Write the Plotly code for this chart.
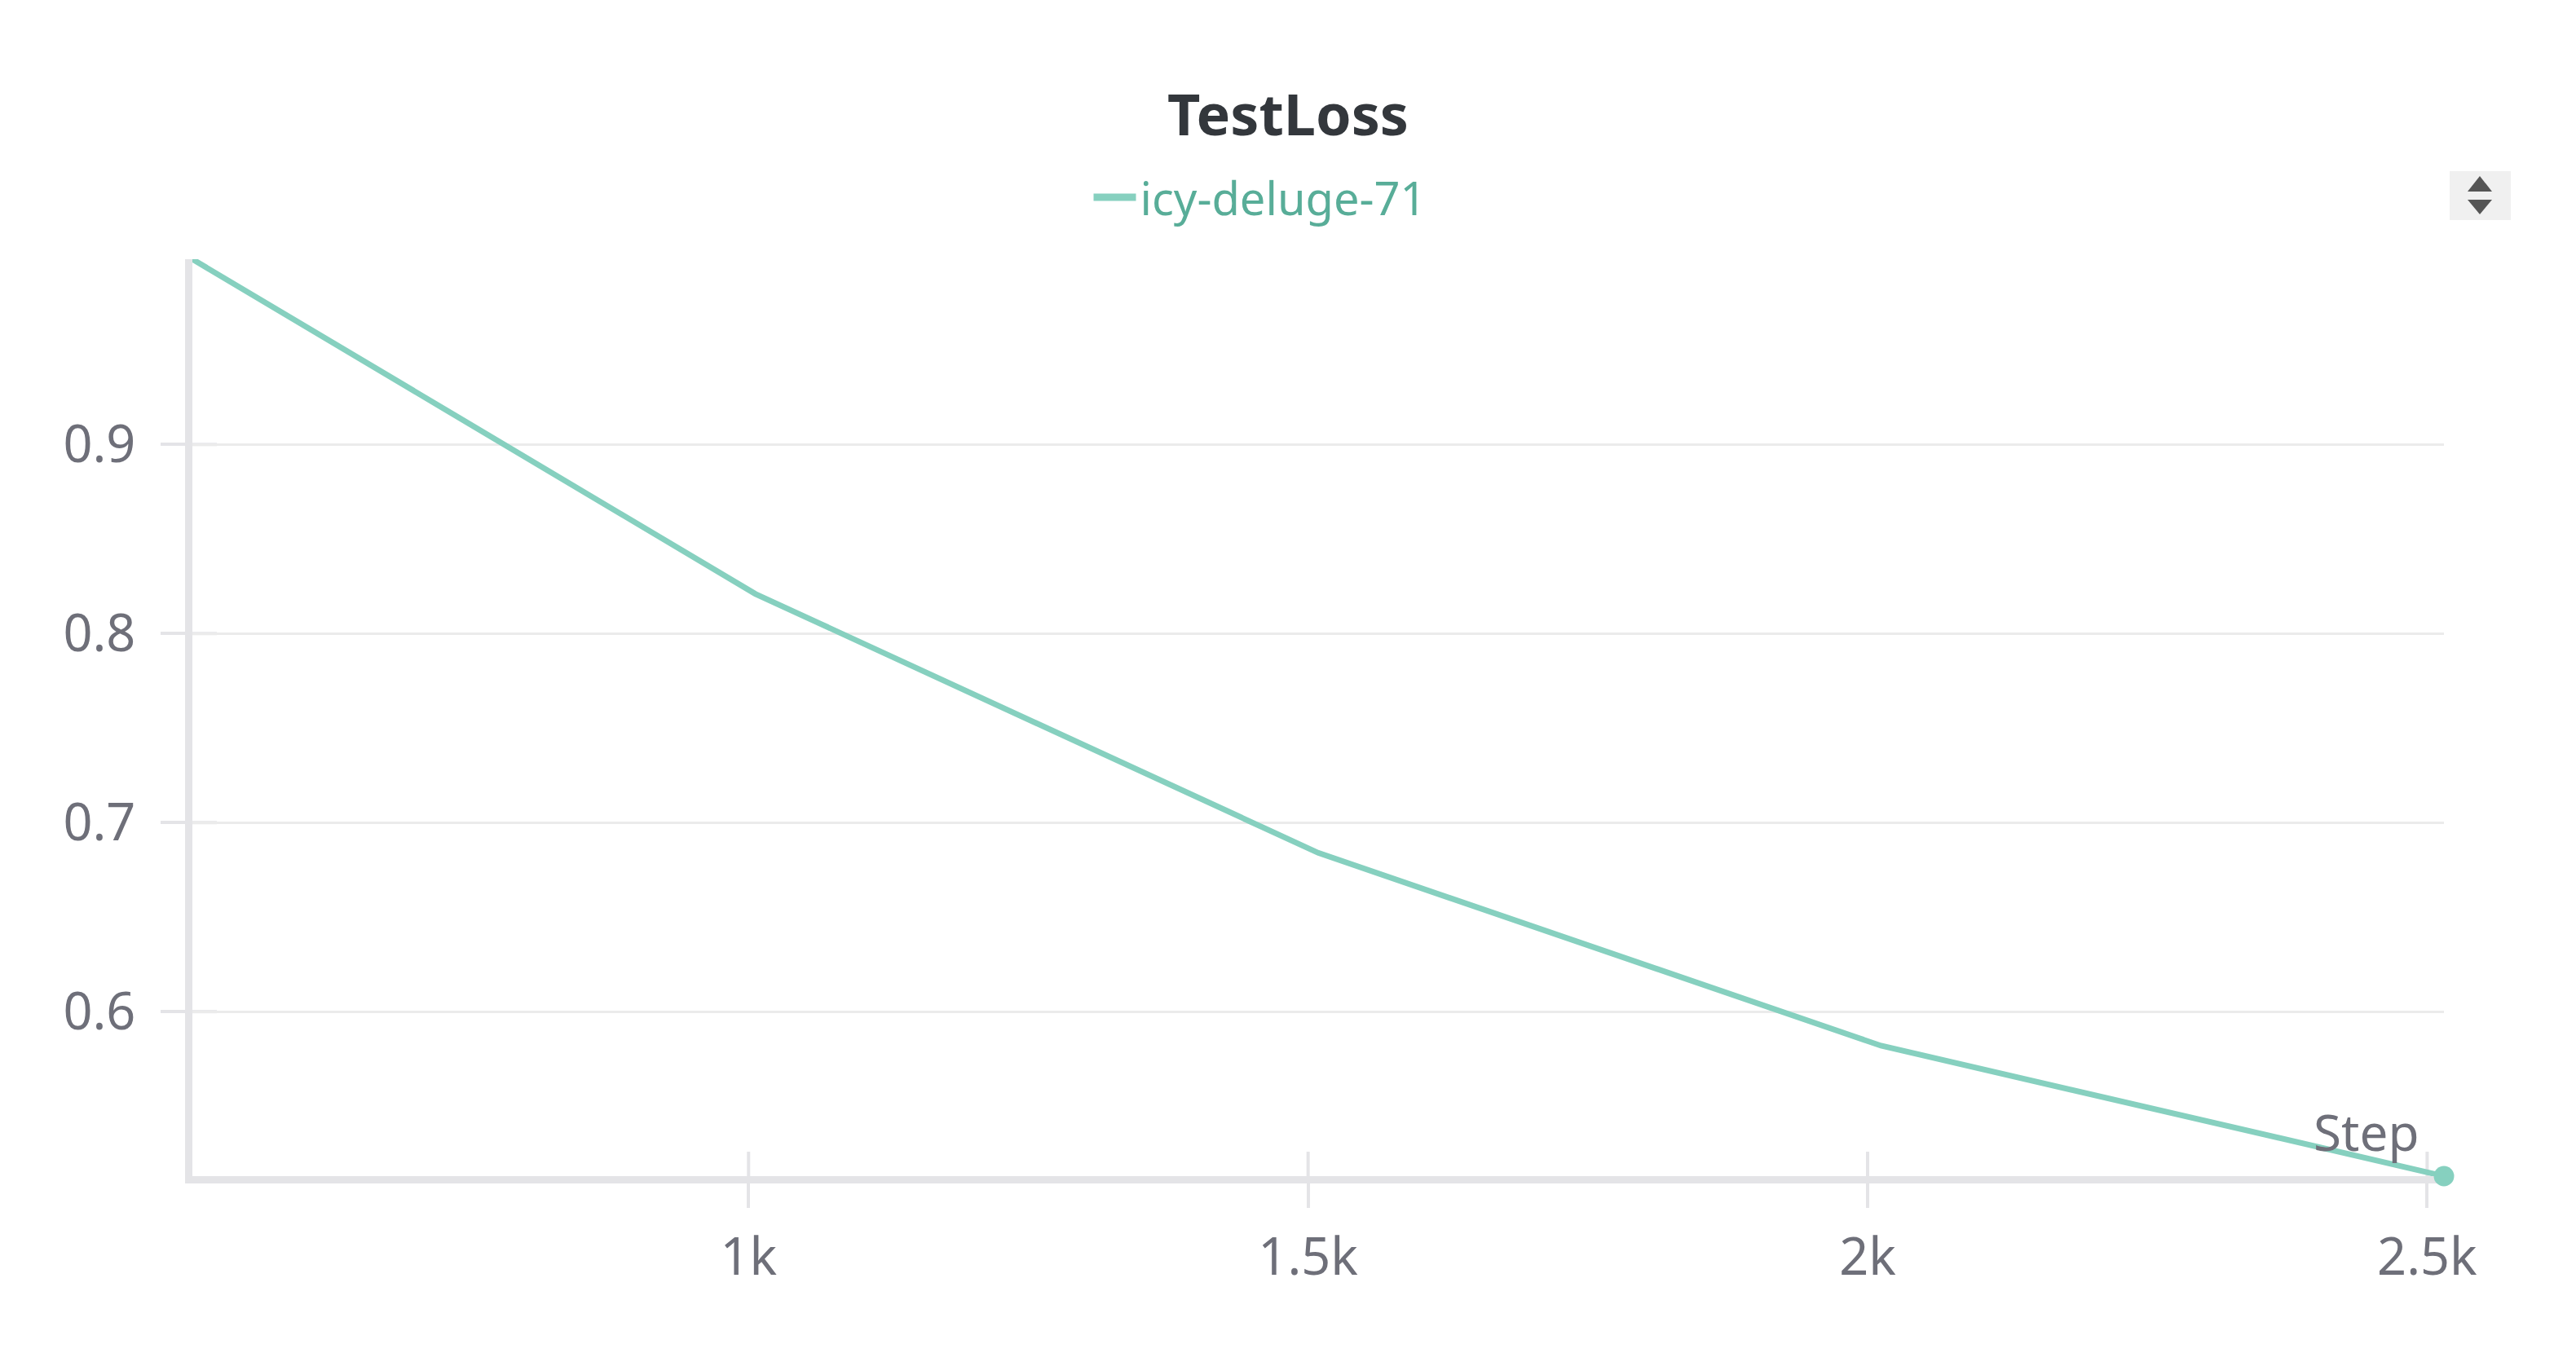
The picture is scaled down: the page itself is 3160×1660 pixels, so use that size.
import plotly.graph_objects as go

# ---- data ----
steps = [503, 1006, 1509, 2012, 2515]
test_loss = [0.998, 0.821, 0.684, 0.582, 0.513]
run_name = "icy-deluge-71"
chart_title = "TestLoss"
x_tickvals = [1000, 1500, 2000, 2500]
x_ticktext = ["1k", "1.5k", "2k", "2.5k"]
y_tickvals = [0.6, 0.7, 0.8, 0.9]
y_ticktext = ["0.6", "0.7", "0.8", "0.9"]

# ---- style ----
LINE = "#86d0bf"
LEGEND_TXT = "#58ad98"
TICK_TXT = "#6e6f79"
AXIS = "#e4e4e7"
GRID = "#ebebeb"
FONT = "Noto Sans"

W, H = 3160, 1660
ML, MR, MT, MB = 236, 162, 318, 217
PW, PH = W - ML - MR, H - MT - MB

xr = [min(steps), max(steps)]
yr = [min(test_loss), max(test_loss)]

fig = go.Figure()

fig.add_trace(go.Scatter(
    x=steps, y=test_loss, mode="lines",
    line=dict(color=LINE, width=7), showlegend=False,
    cliponaxis=False, hoverinfo="x+y",
))
# end-point dot
fig.add_trace(go.Scatter(
    x=steps[-1:], y=test_loss[-1:], mode="markers",
    marker=dict(color=LINE, size=25), showlegend=False,
    cliponaxis=False, hoverinfo="skip",
))
# legend entry
fig.add_trace(go.Scatter(
    x=[None], y=[None], mode="lines", name=run_name,
    line=dict(color=LINE, width=9), showlegend=True,
))

tick = dict(tickcolor=AXIS, tickwidth=4, ticklen=30)

fig.update_layout(
    width=W, height=H,
    margin=dict(l=ML, r=MR, t=MT, b=MB, pad=0, autoexpand=False),
    paper_bgcolor="white", plot_bgcolor="white",
    font=dict(family=FONT, color=TICK_TXT, size=63),
    title=dict(text="<b>" + chart_title + "</b>", x=0.5, xanchor="center",
               xref="container", y=1 - 141 / H, yref="container",
               yanchor="middle",
               font=dict(family=FONT, size=70, color="#33373c")),
    legend=dict(orientation="h", xref="paper", x=(1546 - ML) / PW,
                xanchor="center", y=(H - MB - 242) / PH,
                yanchor="middle", font=dict(family=FONT, size=56,
                                            color=LEGEND_TXT),
                itemwidth=52, bgcolor="rgba(0,0,0,0)"),
    xaxis=dict(range=xr, tickvals=x_tickvals, ticktext=x_ticktext,
               ticks="outside", showgrid=False, zeroline=False,
               showline=True, linecolor=AXIS, linewidth=9,
               ticklabelstandoff=6,
               layer="below traces", tickfont=dict(size=63, color=TICK_TXT),
               **tick),
    yaxis=dict(range=yr, tickvals=y_tickvals, ticktext=y_ticktext,
               ticks="outside", showgrid=True, gridcolor=GRID, gridwidth=3,
               zeroline=False, showline=True, linecolor=AXIS, linewidth=9,
               ticklabelstandoff=18,
               layer="below traces", tickfont=dict(size=63, color=TICK_TXT),
               **tick),
    hovermode="closest",
)

# inner halves of the crossing tick marks
for tv in x_tickvals:
    fig.add_shape(type="line", xref="x", yref="paper", ysizemode="pixel",
                  yanchor=0, x0=tv, x1=tv, y0=0, y1=30,
                  line=dict(color=AXIS, width=4), layer="below")
for tv in y_tickvals:
    fig.add_shape(type="line", yref="y", xref="paper", xsizemode="pixel",
                  xanchor=0, y0=tv, y1=tv, x0=0, x1=30,
                  line=dict(color=AXIS, width=4), layer="below")

# "Step" axis caption
fig.add_annotation(text="Step", xref="paper", yref="paper",
                   x=(2970 - ML) / PW, xanchor="right",
                   y=(H - MB - 1388) / PH, yanchor="middle",
                   showarrow=False, font=dict(family=FONT, size=62,
                                              color=TICK_TXT))

# legend scroll button (UI decoration)
bx = (3042 - ML) / PW
by = (H - MB - 240) / PH
fig.add_shape(type="rect", xref="paper", yref="paper", xsizemode="pixel",
              ysizemode="pixel", xanchor=bx, yanchor=by,
              x0=-37, x1=38, y0=-30, y1=30, fillcolor="#f0f0f0",
              line=dict(width=0), layer="above")
fig.add_shape(type="path", xref="paper", yref="paper", xsizemode="pixel",
              ysizemode="pixel", xanchor=bx, yanchor=by,
              path="M -15 5 L 15 5 L 0 24 Z", fillcolor="#555555",
              line=dict(width=0), layer="above")
fig.add_shape(type="path", xref="paper", yref="paper", xsizemode="pixel",
              ysizemode="pixel", xanchor=bx, yanchor=by,
              path="M -15 -5 L 15 -5 L 0 -23 Z", fillcolor="#555555",
              line=dict(width=0), layer="above")

fig.write_html("out.html")
